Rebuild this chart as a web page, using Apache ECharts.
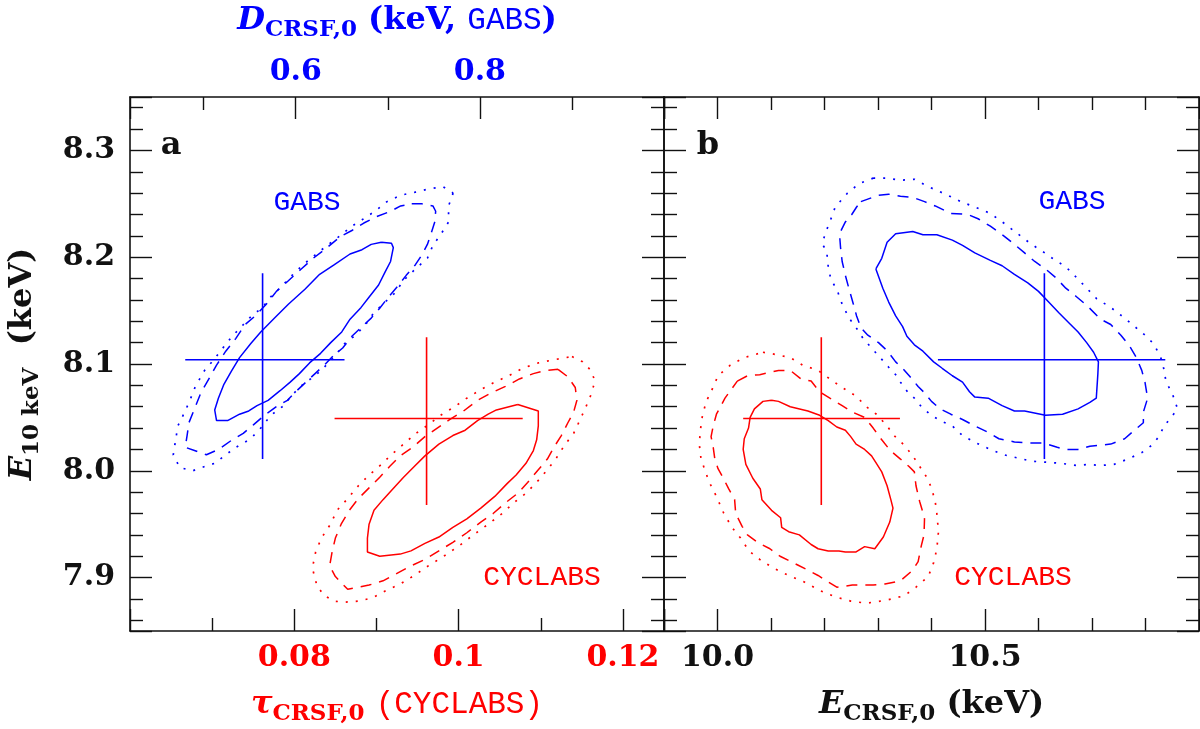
<!DOCTYPE html>
<html><head><meta charset="utf-8">
<script src="https://cdn.jsdelivr.net/npm/echarts@6/dist/echarts.min.js"></script>
<style>html,body{margin:0;padding:0;background:#fff}#c{width:1200px;height:729px}</style>
</head><body><div id="c"></div>
<script>
// ---------- tick labels ----------
const yTickLabels   = ['7.9','8.0','8.1','8.2','8.3'];
const tauTickLabels = ['0.08','0.1','0.12'];
const dTickLabels   = ['0.6','0.8'];
const eTickLabels   = ['10.0','10.5'];

// ---------- panel a : GABS contours (x = D_CRSF,0 , y = E_10keV) ----------
const gabsA_solid = [[0.693,8.214],[0.704,8.213],[0.706,8.209],[0.703,8.196],[0.697,8.186],[0.690,8.174],[0.680,8.163],[0.671,8.153],[0.659,8.142],[0.650,8.130],[0.638,8.120],[0.627,8.110],[0.615,8.101],[0.604,8.091],[0.594,8.083],[0.583,8.075],[0.570,8.066],[0.558,8.061],[0.549,8.056],[0.539,8.053],[0.526,8.047],[0.514,8.047],[0.512,8.057],[0.516,8.068],[0.522,8.081],[0.530,8.093],[0.539,8.106],[0.551,8.119],[0.562,8.130],[0.577,8.143],[0.592,8.156],[0.610,8.170],[0.626,8.184],[0.642,8.193],[0.659,8.203],[0.672,8.207],[0.682,8.212]];
const gabsA_dashed = [[0.726,8.250],[0.737,8.250],[0.749,8.248],[0.752,8.243],[0.751,8.233],[0.747,8.222],[0.743,8.212],[0.737,8.202],[0.730,8.193],[0.720,8.183],[0.711,8.173],[0.701,8.163],[0.691,8.152],[0.682,8.143],[0.672,8.135],[0.661,8.126],[0.651,8.115],[0.640,8.107],[0.631,8.099],[0.621,8.091],[0.611,8.083],[0.600,8.074],[0.591,8.066],[0.579,8.060],[0.566,8.052],[0.554,8.043],[0.543,8.035],[0.531,8.029],[0.516,8.020],[0.503,8.015],[0.490,8.019],[0.480,8.022],[0.482,8.033],[0.484,8.045],[0.490,8.058],[0.497,8.073],[0.507,8.088],[0.514,8.099],[0.524,8.112],[0.535,8.124],[0.545,8.137],[0.556,8.145],[0.568,8.156],[0.579,8.168],[0.592,8.178],[0.606,8.189],[0.619,8.199],[0.634,8.209],[0.648,8.219],[0.661,8.225],[0.674,8.232],[0.688,8.238],[0.703,8.243],[0.714,8.248]];
const gabsA_dotted = [[0.771,8.260],[0.766,8.248],[0.766,8.233],[0.758,8.222],[0.749,8.211],[0.743,8.199],[0.730,8.189],[0.718,8.179],[0.707,8.166],[0.697,8.158],[0.684,8.147],[0.676,8.137],[0.665,8.127],[0.653,8.119],[0.642,8.107],[0.631,8.097],[0.621,8.089],[0.608,8.081],[0.596,8.071],[0.587,8.061],[0.573,8.052],[0.562,8.040],[0.551,8.030],[0.535,8.022],[0.524,8.015],[0.512,8.007],[0.501,8.004],[0.488,8.000],[0.474,8.003],[0.467,8.015],[0.472,8.042],[0.480,8.056],[0.486,8.068],[0.491,8.079],[0.501,8.094],[0.511,8.104],[0.520,8.114],[0.531,8.126],[0.541,8.135],[0.552,8.145],[0.564,8.153],[0.573,8.163],[0.585,8.173],[0.596,8.183],[0.608,8.193],[0.621,8.202],[0.634,8.211],[0.648,8.220],[0.661,8.229],[0.672,8.235],[0.686,8.243],[0.699,8.252],[0.714,8.258],[0.730,8.261],[0.745,8.264],[0.760,8.266]];

// ---------- panel a : CYCLABS contours (x = tau_CRSF,0 , y = E_10keV) ----------
const cycA_solid = [[0.1072,8.062],[0.1097,8.056],[0.1097,8.042],[0.1095,8.029],[0.1091,8.019],[0.1082,8.007],[0.1070,7.996],[0.1059,7.988],[0.1044,7.976],[0.1027,7.965],[0.1010,7.955],[0.0993,7.947],[0.0976,7.938],[0.0959,7.932],[0.0942,7.925],[0.0929,7.922],[0.0904,7.920],[0.0889,7.924],[0.0889,7.937],[0.0891,7.950],[0.0897,7.963],[0.0908,7.973],[0.0921,7.984],[0.0933,7.994],[0.0946,8.004],[0.0959,8.014],[0.0976,8.025],[0.0993,8.033],[0.1008,8.038],[0.1023,8.047],[0.1036,8.053],[0.1046,8.057]];
const cycA_dashed = [[0.1121,8.095],[0.1133,8.088],[0.1142,8.078],[0.1144,8.066],[0.1140,8.055],[0.1133,8.045],[0.1125,8.033],[0.1116,8.022],[0.1108,8.011],[0.1097,8.001],[0.1084,7.989],[0.1072,7.979],[0.1057,7.970],[0.1042,7.960],[0.1027,7.952],[0.1010,7.942],[0.0993,7.933],[0.0976,7.925],[0.0959,7.917],[0.0942,7.911],[0.0925,7.904],[0.0908,7.897],[0.0891,7.893],[0.0865,7.889],[0.0850,7.901],[0.0843,7.911],[0.0846,7.924],[0.0850,7.937],[0.0857,7.950],[0.0867,7.963],[0.0878,7.974],[0.0891,7.984],[0.0904,7.994],[0.0916,8.004],[0.0929,8.014],[0.0944,8.022],[0.0959,8.032],[0.0974,8.040],[0.0989,8.048],[0.1006,8.056],[0.1023,8.066],[0.1040,8.073],[0.1057,8.079],[0.1074,8.086],[0.1091,8.091],[0.1106,8.094]];
const cycA_dotted = [[0.1138,8.107],[0.1151,8.102],[0.1161,8.094],[0.1166,8.084],[0.1161,8.071],[0.1155,8.060],[0.1148,8.048],[0.1140,8.035],[0.1129,8.024],[0.1119,8.012],[0.1108,8.001],[0.1097,7.991],[0.1082,7.979],[0.1067,7.970],[0.1053,7.960],[0.1036,7.950],[0.1018,7.940],[0.1001,7.930],[0.0982,7.920],[0.0963,7.911],[0.0946,7.902],[0.0929,7.894],[0.0912,7.888],[0.0895,7.881],[0.0878,7.878],[0.0861,7.877],[0.0848,7.878],[0.0835,7.884],[0.0827,7.894],[0.0822,7.909],[0.0826,7.924],[0.0833,7.937],[0.0844,7.950],[0.0852,7.963],[0.0865,7.974],[0.0878,7.986],[0.0891,7.996],[0.0906,8.006],[0.0918,8.015],[0.0933,8.025],[0.0948,8.035],[0.0963,8.043],[0.0978,8.052],[0.0995,8.060],[0.1010,8.068],[0.1027,8.076],[0.1044,8.083],[0.1061,8.089],[0.1078,8.096],[0.1097,8.101],[0.1116,8.104]];

// ---------- panel b : GABS contours (x = E_CRSF,0 , y = E_10keV) ----------
const gabsB_solid = [[10.296,8.189],[10.307,8.199],[10.317,8.214],[10.333,8.222],[10.365,8.224],[10.384,8.221],[10.410,8.221],[10.439,8.216],[10.458,8.211],[10.481,8.204],[10.510,8.197],[10.532,8.192],[10.555,8.184],[10.580,8.176],[10.600,8.168],[10.619,8.158],[10.638,8.148],[10.658,8.138],[10.674,8.130],[10.690,8.120],[10.703,8.111],[10.712,8.102],[10.711,8.091],[10.708,8.068],[10.696,8.064],[10.674,8.058],[10.645,8.053],[10.613,8.052],[10.574,8.056],[10.555,8.056],[10.532,8.061],[10.506,8.068],[10.481,8.069],[10.471,8.074],[10.458,8.083],[10.439,8.089],[10.420,8.096],[10.404,8.102],[10.384,8.112],[10.368,8.118],[10.354,8.126],[10.346,8.135],[10.333,8.145],[10.320,8.158],[10.309,8.171]];
const gabsB_dashed = [[10.268,8.252],[10.301,8.258],[10.320,8.259],[10.342,8.257],[10.365,8.256],[10.387,8.252],[10.407,8.248],[10.436,8.241],[10.468,8.240],[10.487,8.236],[10.510,8.229],[10.535,8.220],[10.555,8.212],[10.574,8.204],[10.593,8.196],[10.613,8.189],[10.632,8.181],[10.651,8.171],[10.671,8.163],[10.690,8.155],[10.716,8.142],[10.735,8.137],[10.754,8.127],[10.770,8.117],[10.783,8.106],[10.793,8.094],[10.799,8.083],[10.804,8.068],[10.796,8.055],[10.796,8.045],[10.777,8.037],[10.761,8.030],[10.735,8.025],[10.716,8.024],[10.696,8.023],[10.674,8.020],[10.651,8.020],[10.635,8.022],[10.609,8.026],[10.580,8.026],[10.555,8.027],[10.526,8.030],[10.506,8.036],[10.481,8.042],[10.458,8.048],[10.436,8.053],[10.416,8.058],[10.400,8.065],[10.387,8.073],[10.375,8.079],[10.360,8.088],[10.346,8.096],[10.333,8.102],[10.318,8.112],[10.301,8.120],[10.281,8.127],[10.268,8.134],[10.260,8.145],[10.254,8.156],[10.246,8.170],[10.239,8.183],[10.233,8.196],[10.230,8.209],[10.228,8.222],[10.239,8.233],[10.251,8.240],[10.260,8.247]];
const gabsB_dotted = [[10.291,8.274],[10.317,8.274],[10.342,8.272],[10.368,8.273],[10.394,8.266],[10.426,8.259],[10.455,8.252],[10.481,8.247],[10.510,8.241],[10.535,8.232],[10.561,8.222],[10.587,8.212],[10.606,8.206],[10.626,8.199],[10.651,8.191],[10.671,8.181],[10.690,8.171],[10.709,8.161],[10.735,8.153],[10.761,8.143],[10.780,8.135],[10.799,8.127],[10.815,8.119],[10.828,8.107],[10.835,8.094],[10.838,8.084],[10.851,8.071],[10.860,8.058],[10.851,8.052],[10.835,8.042],[10.825,8.032],[10.812,8.024],[10.793,8.017],[10.767,8.011],[10.741,8.006],[10.716,8.005],[10.693,8.006],[10.671,8.005],[10.642,8.007],[10.616,8.008],[10.587,8.009],[10.561,8.012],[10.535,8.015],[10.510,8.020],[10.484,8.026],[10.458,8.033],[10.439,8.042],[10.416,8.047],[10.397,8.053],[10.381,8.060],[10.368,8.068],[10.355,8.074],[10.342,8.083],[10.333,8.090],[10.320,8.097],[10.304,8.106],[10.288,8.115],[10.272,8.124],[10.262,8.132],[10.246,8.143],[10.233,8.156],[10.223,8.170],[10.212,8.179],[10.207,8.191],[10.204,8.206],[10.196,8.212],[10.201,8.222],[10.210,8.233],[10.220,8.247],[10.243,8.260],[10.265,8.269]];

// ---------- panel b : CYCLABS contours (x = E_CRSF,0 , y = E_10keV) ----------
const cycB_solid = [[10.101,8.066],[10.114,8.065],[10.136,8.060],[10.169,8.056],[10.191,8.052],[10.207,8.047],[10.223,8.041],[10.239,8.038],[10.249,8.032],[10.259,8.025],[10.275,8.020],[10.288,8.014],[10.297,8.007],[10.307,7.999],[10.317,7.986],[10.324,7.973],[10.328,7.965],[10.322,7.952],[10.310,7.938],[10.294,7.927],[10.275,7.929],[10.259,7.924],[10.239,7.924],[10.227,7.925],[10.207,7.925],[10.188,7.927],[10.175,7.931],[10.153,7.940],[10.133,7.943],[10.120,7.947],[10.118,7.956],[10.101,7.963],[10.083,7.973],[10.080,7.983],[10.066,7.993],[10.053,8.006],[10.048,8.020],[10.050,8.030],[10.058,8.040],[10.061,8.050],[10.069,8.058],[10.085,8.065]];
const cycB_dashed = [[10.037,8.084],[10.056,8.089],[10.079,8.090],[10.114,8.094],[10.136,8.094],[10.156,8.086],[10.175,8.084],[10.191,8.074],[10.210,8.068],[10.233,8.061],[10.252,8.055],[10.275,8.050],[10.291,8.040],[10.307,8.029],[10.323,8.019],[10.342,8.011],[10.358,8.004],[10.368,7.999],[10.371,7.986],[10.378,7.971],[10.387,7.956],[10.386,7.940],[10.381,7.930],[10.375,7.915],[10.365,7.907],[10.342,7.897],[10.313,7.894],[10.291,7.893],[10.252,7.893],[10.223,7.891],[10.207,7.896],[10.188,7.902],[10.169,7.907],[10.149,7.912],[10.117,7.920],[10.098,7.927],[10.075,7.933],[10.056,7.940],[10.046,7.948],[10.034,7.960],[10.032,7.973],[10.021,7.983],[10.011,7.993],[10.001,8.002],[9.995,8.011],[9.992,8.022],[9.988,8.032],[9.992,8.042],[9.998,8.053],[10.014,8.068]];
const cycB_dotted = [[10.085,8.111],[10.108,8.109],[10.136,8.106],[10.159,8.099],[10.188,8.094],[10.210,8.086],[10.233,8.078],[10.259,8.070],[10.278,8.060],[10.297,8.053],[10.317,8.042],[10.330,8.033],[10.349,8.024],[10.365,8.014],[10.378,8.004],[10.391,7.994],[10.400,7.984],[10.407,7.971],[10.410,7.960],[10.413,7.943],[10.410,7.927],[10.404,7.914],[10.394,7.901],[10.371,7.891],[10.349,7.883],[10.317,7.879],[10.278,7.876],[10.249,7.878],[10.220,7.882],[10.191,7.888],[10.162,7.896],[10.133,7.902],[10.104,7.909],[10.079,7.917],[10.059,7.925],[10.043,7.937],[10.027,7.947],[10.011,7.961],[9.998,7.976],[9.985,7.989],[9.976,8.001],[9.969,8.012],[9.966,8.025],[9.968,8.038],[9.972,8.052],[9.979,8.065],[9.988,8.074],[10.001,8.089],[10.024,8.099],[10.050,8.106]];

// ---------- best-fit points with error bars: [xLow, xBest, xHigh], [yLow, yBest, yHigh] ----------
const gabsA_fitX = [0.480, 0.564, 0.653];
const gabsA_fitY = [8.011, 8.104, 8.185];
const cycA_fitX  = [0.0849, 0.0961, 0.1078];
const cycA_fitY  = [7.968, 8.049, 8.125];
const gabsB_fitX = [10.412, 10.611, 10.837];
const gabsB_fitY = [8.011, 8.104, 8.185];
const cycB_fitX  = [10.048, 10.194, 10.341];
const cycB_fitY  = [7.968, 8.049, 8.125];

// ---------- styling ----------
const BLUE = '#0000ff', RED = '#ff0000', INK = '#111111';
const SERIF = '"DejaVu Serif", "Liberation Serif", serif';
const MONO = '"Liberation Mono", "DejaVu Sans Mono", monospace';
const DASHED = [11, 8], DOTTED = [2, 8];

function closed(a){ return a.concat([a[0]]); }
function contour(data, color, type, xi, yi){
  return {type:'line', data:closed(data), xAxisIndex:xi, yAxisIndex:yi, symbol:'none', showSymbol:false,
    lineStyle:{color:color, width:type === DOTTED ? 1.7 : 1.5, type:type, cap:'butt'}, silent:true, z:3};
}
function cross(fx, fy, color, xi, yi){
  return [
    {type:'line', data:[[fx[0],fy[1]],[fx[2],fy[1]]], xAxisIndex:xi, yAxisIndex:yi, symbol:'none', lineStyle:{color:color,width:1.6}, silent:true, z:4},
    {type:'line', data:[[fx[1],fy[0]],[fx[1],fy[2]]], xAxisIndex:xi, yAxisIndex:yi, symbol:'none', lineStyle:{color:color,width:1.6}, silent:true, z:4}
  ];
}
// only label ticks that exactly match an entry of the given list
function pick(list, digits){
  return function(v){
    const s = digits==null ? String(Number(v.toFixed(3))) : v.toFixed(digits);
    if (list.indexOf(s) < 0) return '';
    return Math.abs(parseFloat(s) - v) < 1e-6 ? s : '';
  };
}

function richFor(color){
  return {
    it:  {fontFamily:SERIF, fontStyle:'italic', fontWeight:'bold', fontSize:32, lineHeight:42, color:color, verticalAlign:'middle'},
    sub: {fontFamily:SERIF, fontWeight:'bold', fontSize:23, lineHeight:24, color:color, verticalAlign:'bottom'},
    rm:  {fontFamily:SERIF, fontWeight:'bold', fontSize:32, lineHeight:42, color:color, verticalAlign:'middle'},
    tt:  {fontFamily:MONO, fontWeight:'normal', fontSize:31, lineHeight:42, color:color, verticalAlign:'middle'}
  };
}

function baseAxis(extra){
  const a = {
    type:'value', scale:true,
    axisLine:{show:true, onZero:false, lineStyle:{color:INK, width:1.6}},
    axisTick:{show:true, inside:true, length:22, lineStyle:{color:INK, width:1.4}},
    minorTick:{show:true, length:13, lineStyle:{color:INK, width:1.4}},
    splitLine:{show:false}, minorSplitLine:{show:false},
    axisLabel:{show:false},
    nameMoveOverlap:false
  };
  return Object.assign(a, extra);
}

const labelFont = {fontFamily:SERIF, fontWeight:'bold', fontSize:30};

const xAxes = [
  // 0: panel a bottom, tau (CYCLABS)
  baseAxis({gridIndex:0, position:'bottom', min:0.06, max:0.125, splitNumber:3,
    minorTick:{show:true, splitNumber:2, length:13, lineStyle:{color:INK,width:1.4}},
    axisLabel:Object.assign({show:true, margin:12, color:RED, formatter:pick(tauTickLabels)}, labelFont),
    name:'{it|τ}{sub|CRSF,0}{rm| }{tt|(CYCLABS)}', nameLocation:'middle', nameGap:53,
    nameTextStyle:{color:RED, rich:richFor(RED)}}),
  // 1: panel a top, D (GABS)
  baseAxis({gridIndex:0, position:'top', min:0.42, max:1.0, splitNumber:3,
    minorTick:{show:true, splitNumber:2, length:13, lineStyle:{color:INK,width:1.4}},
    axisLabel:Object.assign({show:true, margin:10, color:BLUE, formatter:pick(dTickLabels,1)}, labelFont),
    name:'{it|D}{sub|CRSF,0}{rm| (keV, }{tt|GABS}{rm|)}', nameLocation:'middle', nameGap:55,
    nameTextStyle:{color:BLUE, rich:richFor(BLUE)}}),
  // 2: panel b bottom, E_CRSF
  baseAxis({gridIndex:1, position:'bottom', min:9.9, max:10.9, splitNumber:2,
    minorTick:{show:true, splitNumber:5, length:13, lineStyle:{color:INK,width:1.4}},
    axisLabel:Object.assign({show:true, margin:12, color:INK, formatter:pick(eTickLabels,1)}, labelFont),
    name:'{it|E}{sub|CRSF,0}{rm| (keV)}', nameLocation:'middle', nameGap:53,
    nameTextStyle:{color:INK, rich:richFor(INK)}}),
  // 3: panel b top (ticks only)
  baseAxis({gridIndex:1, position:'top', min:9.9, max:10.9, splitNumber:2,
    minorTick:{show:true, splitNumber:5, length:13, lineStyle:{color:INK,width:1.4}}})
];

const yCommon = {min:7.85, max:8.35, splitNumber:5};
const yMinor = {show:true, splitNumber:5, length:13, lineStyle:{color:INK,width:1.4}};
const yAxes = [
  baseAxis(Object.assign({gridIndex:0, position:'left', minorTick:yMinor,
    axisLabel:Object.assign({show:true, margin:15, color:INK, formatter:pick(yTickLabels,1)}, labelFont),
    name:'{it|E}{sub|10 keV}{rm|  (keV)}', nameLocation:'middle', nameGap:86,
    nameTextStyle:{color:INK, rich:richFor(INK)}}, yCommon)),
  baseAxis(Object.assign({gridIndex:0, position:'right', minorTick:yMinor}, yCommon)),
  baseAxis(Object.assign({gridIndex:1, position:'left', minorTick:yMinor}, yCommon)),
  baseAxis(Object.assign({gridIndex:1, position:'right', minorTick:yMinor}, yCommon))
];

const series = [
  contour(gabsA_solid, BLUE, 'solid', 1, 0),
  contour(gabsA_dashed, BLUE, DASHED, 1, 0),
  contour(gabsA_dotted, BLUE, DOTTED, 1, 0),
  contour(cycA_solid, RED, 'solid', 0, 0),
  contour(cycA_dashed, RED, DASHED, 0, 0),
  contour(cycA_dotted, RED, DOTTED, 0, 0),
  contour(gabsB_solid, BLUE, 'solid', 2, 2),
  contour(gabsB_dashed, BLUE, DASHED, 2, 2),
  contour(gabsB_dotted, BLUE, DOTTED, 2, 2),
  contour(cycB_solid, RED, 'solid', 2, 2),
  contour(cycB_dashed, RED, DASHED, 2, 2),
  contour(cycB_dotted, RED, DOTTED, 2, 2)
].concat(cross(gabsA_fitX, gabsA_fitY, BLUE, 1, 0))
 .concat(cross(cycA_fitX, cycA_fitY, RED, 0, 0))
 .concat(cross(gabsB_fitX, gabsB_fitY, BLUE, 2, 2))
 .concat(cross(cycB_fitX, cycB_fitY, RED, 2, 2));

function txt(x, y, text, color, font){
  return {type:'text', x:x, y:y, silent:true, z:10,
    style:{text:text, fill:color, font:font, align:'center', verticalAlign:'middle', textAlign:'center', textVerticalAlign:'middle'}};
}
const monoFont = 'normal 28px ' + MONO;
const panelFont = 'bold 32px ' + SERIF;

const option = {
  animation:false,
  backgroundColor:'#ffffff',
  grid:[
    {left:130, top:97, width:534, height:534, containLabel:false, outerBoundsMode:'none'},
    {left:664, top:97, width:535, height:534, containLabel:false, outerBoundsMode:'none'}
  ],
  xAxis:xAxes,
  yAxis:yAxes,
  series:series,
  graphic:[
    txt(171, 146, 'a', INK, panelFont),
    txt(708, 146, 'b', INK, panelFont),
    txt(307, 203, 'GABS', BLUE, monoFont),
    txt(542, 578, 'CYCLABS', RED, monoFont),
    txt(1072, 202, 'GABS', BLUE, monoFont),
    txt(1013, 578, 'CYCLABS', RED, monoFont)
  ]
};

const chart = echarts.init(document.getElementById('c'), null, {renderer:'canvas', width:1200, height:729});
chart.setOption(option);
</script>
</body></html>
